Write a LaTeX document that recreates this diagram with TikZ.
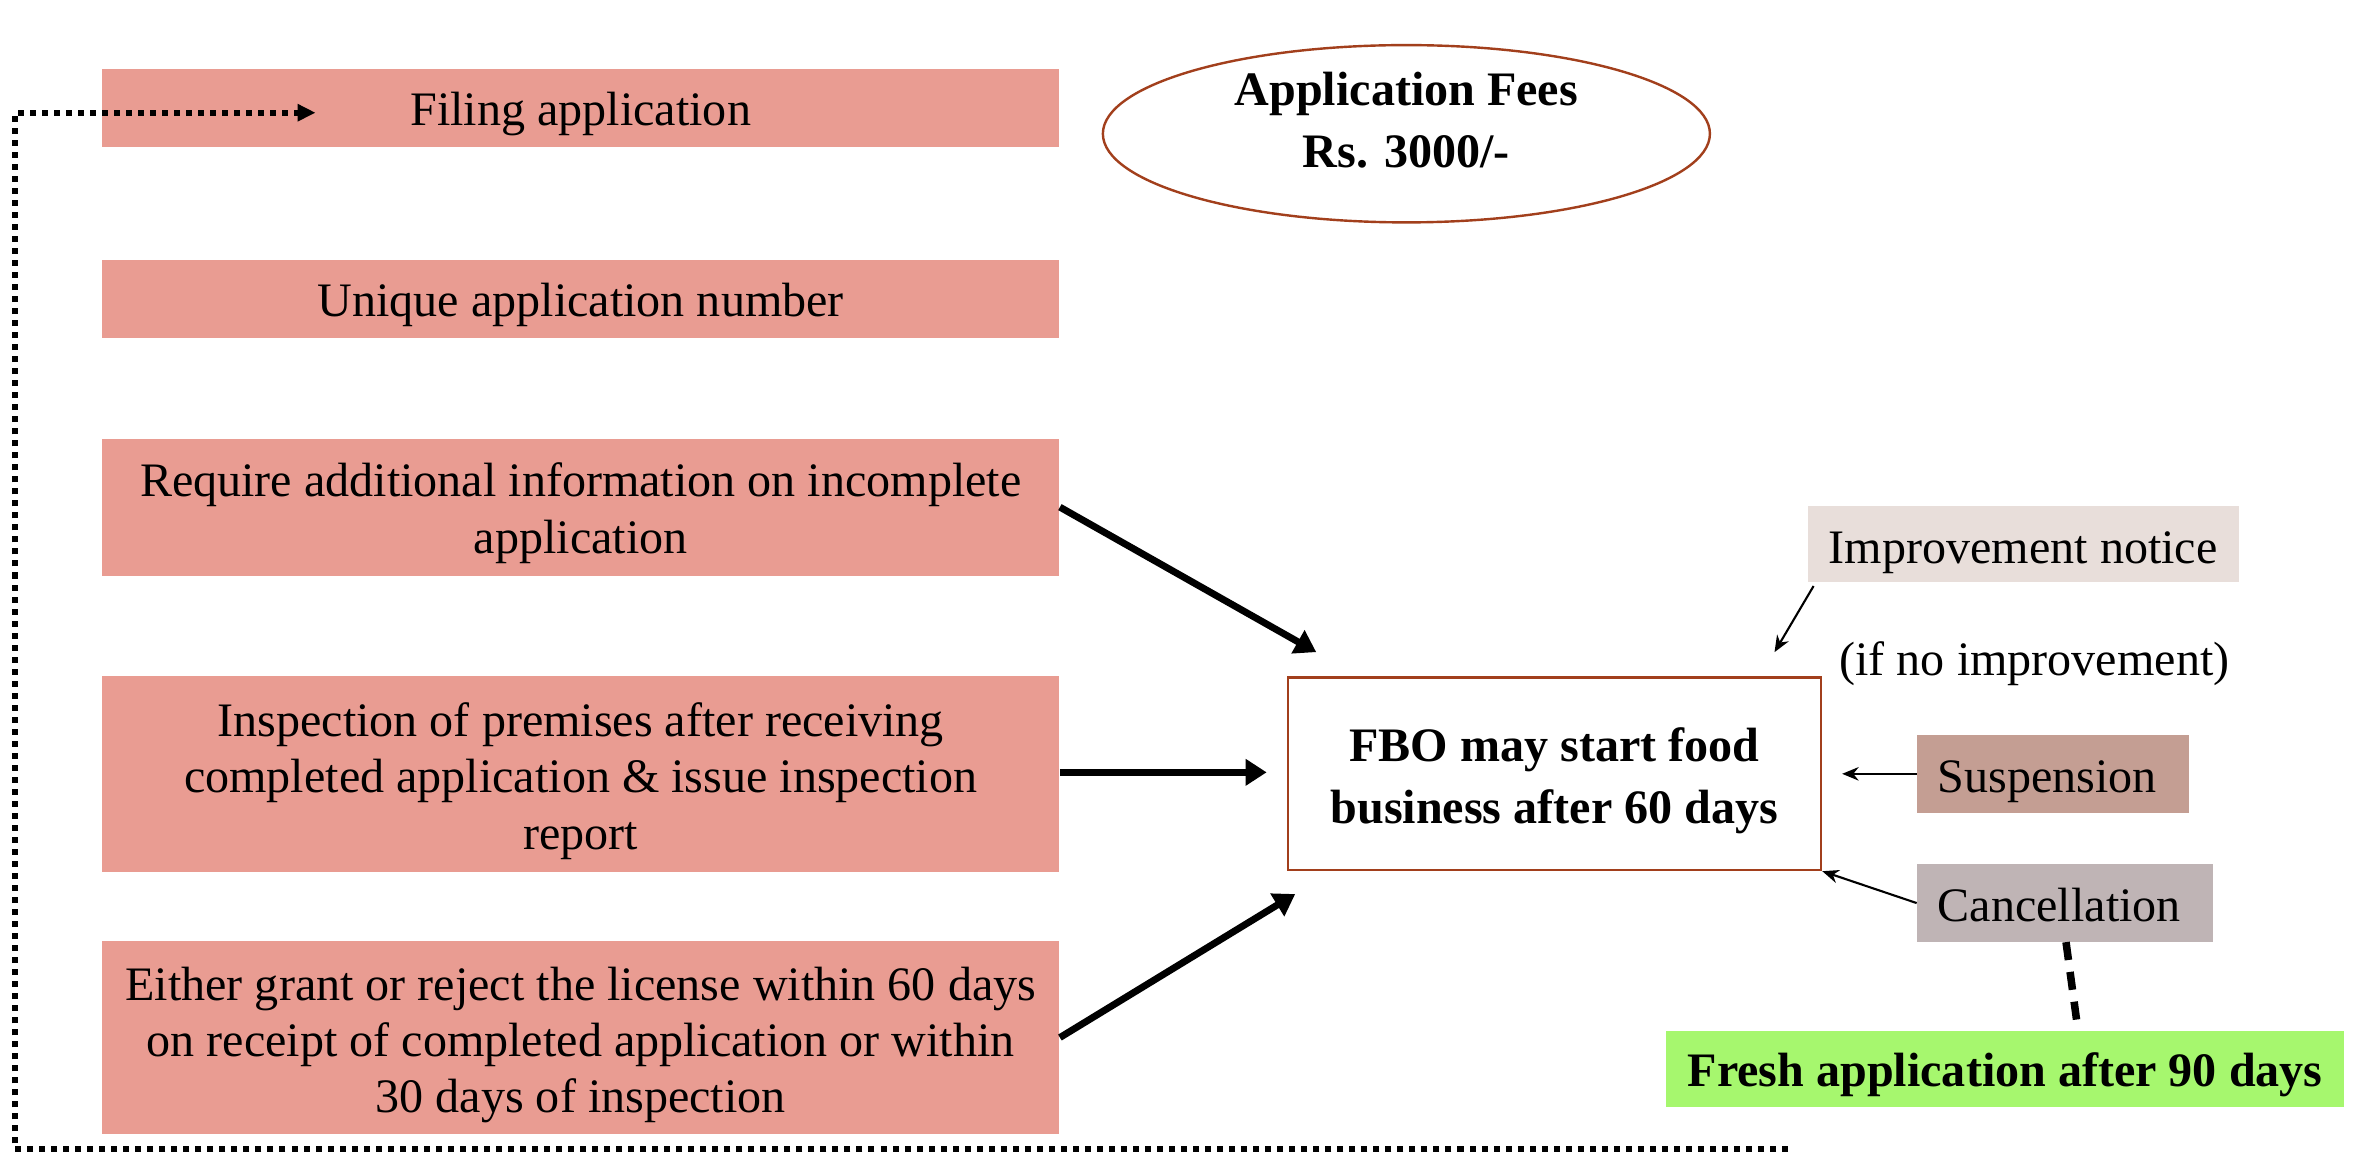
\documentclass[tikz,border=0pt]{standalone}
\usepackage{fontspec}
\setmainfont{Liberation Serif}
\usetikzlibrary{arrows.meta,calc,shapes.geometric}
\definecolor{salmon}{HTML}{E99C92}
\definecolor{rust}{HTML}{A23F1C}
\definecolor{imprfill}{HTML}{E8DEDA}
\definecolor{suspfill}{HTML}{C49E93}
\definecolor{cancfill}{HTML}{BFB4B5}
\definecolor{freshfill}{HTML}{A6F76E}
\tikzset{
  txt/.style={font=\fontsize{16}{18.7}\selectfont, align=center, inner sep=0pt},
  btxt/.style={font=\fontsize{16}{20.5}\selectfont\bfseries, align=center, inner sep=0pt},
  boxshape/.style={inner sep=0pt},
  stepbox/.style={boxshape, fill=salmon, minimum width=318.5pt},
  thickarrow/.style={line width=2.3pt, -{Triangle[length=7pt,width=8.5pt]}},
  thinarrow/.style={line width=0.7pt, -{Stealth[length=5.5pt,width=4.5pt]}},
}
\begin{document}
\begin{tikzpicture}[x=0.5pt,y=-0.5pt]
\useasboundingbox (0,0) rectangle (1568,768);
\fill[white] (0,0) rectangle (1568,768);

% left column of steps
\node[stepbox, minimum height=26pt] (filing) at (386.5,72) {};
\node[txt] (filingtext) at ([yshift=-2pt]filing.center) {Filing application};
\node[stepbox, minimum height=26pt] (unique) at (386.5,199) {};
\node[txt] (uniquetext) at ([yshift=-2pt]unique.center) {Unique application number};
\node[stepbox, minimum height=45.5pt] (require) at (386.5,337.5) {};
\node[txt] (requiretext) at ([yshift=-2pt]require.center) {Require additional information on incomplete\\application};
\node[stepbox, minimum height=65pt] (inspect) at (386.5,515) {};
\node[txt] (inspecttext) at ([yshift=-2.4pt]inspect.center) {Inspection of premises after receiving\\completed application \& issue inspection\\report};
\node[stepbox, minimum height=64.5pt] (either) at (386.5,690.5) {};
\node[txt] (eithertext) at ([yshift=-2.4pt]either.center) {Either grant or reject the license within 60 days\\on receipt of completed application or within\\30 days of inspection};

% fees ellipse
\node[boxshape, ellipse, draw=rust, line width=0.8pt, minimum width=202pt, minimum height=59pt] (fees) at (936,89) {};
\node[btxt] (feestext) at ([yshift=4.6pt]fees.center) {Application Fees\\Rs. 3000/-};

% central box
\node[boxshape, draw=rust, line width=0.8pt, minimum width=177.5pt, minimum height=64pt] (fbo) at (1034.5,515) {};
\node[btxt] (fbotext) at ([yshift=-2.4pt]fbo.center) {FBO may start food\\business after 60 days};

% right side
\node[boxshape, fill=imprfill, minimum width=143.5pt, minimum height=25pt] (impr) at (1346.5,362) {};
\node[txt] (imprtext) at ([yshift=-3pt]impr.center) {Improvement notice};
\node[txt] (ifno) at (1354,442) {(if no improvement)};
\node[boxshape, fill=suspfill, minimum width=90.5pt, minimum height=26pt] (susp) at (1366.5,515) {};
\node[txt] (susptext) at ([xshift=-2pt,yshift=-2.5pt]susp.center) {Suspension};
\node[boxshape, fill=cancfill, minimum width=98.5pt, minimum height=26pt] (canc) at (1374.5,601) {};
\node[txt] (canctext) at ([xshift=-2pt,yshift=-0.5pt]canc.center) {Cancellation};
\node[boxshape, fill=freshfill, minimum width=225.5pt, minimum height=25.5pt] (fresh) at (1334.5,711.5) {};
\node[btxt] (freshtext) at ([yshift=-2pt]fresh.center) {Fresh application after 90 days};

% free arrow ends
\coordinate (t1) at (876,434);
\coordinate (t2) at (843,514);
\coordinate (t3) at (862,595);
\coordinate (t4) at (1181,434);
\coordinate (s4) at (1207,390);
\coordinate (t5) at (1226,515);
\coordinate (f1) at (1383,686);
\coordinate (c1) at (1375,627);
\coordinate (L0) at (1190,765);
\coordinate (L1) at (10,765);
\coordinate (L2) at (10,75);
\coordinate (L3) at (210,75);

% connectors
\draw[thickarrow] (require.east) -- (t1);
\draw[thickarrow] (inspect.east |- t2) -- (t2);
\draw[thickarrow] (either.east) -- (t3);
\draw[thinarrow] (s4) -- (t4);
\draw[thinarrow] (susp.west) -- (t5);
\draw[thinarrow] (canc.west) -- (fbo.south east);
\draw[line width=2.5pt, dash pattern=on 6pt off 4pt] (c1) -- (f1);
\draw[line width=2pt, dash pattern=on 2pt off 2pt, -{Triangle[length=6pt,width=5.5pt]}] (L0) -- (L1) -- (L2) -- (L3);
\end{tikzpicture}
\end{document}
